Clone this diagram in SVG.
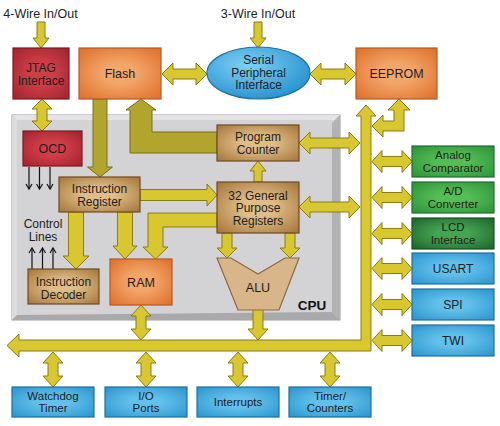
<svg xmlns="http://www.w3.org/2000/svg" width="500" height="426" viewBox="0 0 500 426">
<style>
.t{font-family:"Liberation Sans",Arial,sans-serif;font-size:12px;fill:#1d1d1d;text-anchor:middle}
.s{font-size:11.5px}
.b{font-weight:bold;font-size:13.5px;fill:#111}
.ya{fill:#d9c72f;stroke:#8a7b17;stroke-width:1}
.oa{fill:#b2a52e;stroke:#7a6e18;stroke-width:1}
.bl{stroke:#111;stroke-width:1.2;fill:none}
.red{fill:url(#gRed);stroke:#7a1a22;stroke-width:1.2}
.org{fill:url(#gOrg);stroke:#b35a26;stroke-width:1.2}
.brn{fill:url(#gBrn);stroke:#6e4a22;stroke-width:1.2}
.blu{fill:url(#gBlu);stroke:#1f6f9f;stroke-width:1.2}
.grn{fill:url(#gGrn);stroke:#1e6e2a;stroke-width:1.2}
.dgr{fill:url(#gDgr);stroke:#174f22;stroke-width:1.2}
</style>
<defs>
<radialGradient id="gRed" cx="50%" cy="50%" r="65%"><stop offset="0.35" stop-color="#cf3d47"/><stop offset="1" stop-color="#a52532"/></radialGradient>
<radialGradient id="gOrg" cx="50%" cy="50%" r="65%"><stop offset="0.3" stop-color="#f3a66a"/><stop offset="1" stop-color="#e0732f"/></radialGradient>
<radialGradient id="gBrn" cx="50%" cy="50%" r="65%"><stop offset="0.3" stop-color="#dfbd88"/><stop offset="1" stop-color="#aa7b40"/></radialGradient>
<radialGradient id="gBlu" cx="50%" cy="50%" r="65%"><stop offset="0.3" stop-color="#62c0ea"/><stop offset="1" stop-color="#2f98d0"/></radialGradient>
<radialGradient id="gGrn" cx="50%" cy="50%" r="65%"><stop offset="0.3" stop-color="#55bd55"/><stop offset="1" stop-color="#2e963b"/></radialGradient>
<radialGradient id="gDgr" cx="50%" cy="50%" r="65%"><stop offset="0.3" stop-color="#45a452"/><stop offset="1" stop-color="#1f6a2c"/></radialGradient>
<radialGradient id="gEl" cx="40%" cy="35%" r="70%"><stop offset="0" stop-color="#7fd0f4"/><stop offset="1" stop-color="#2590cf"/></radialGradient>
<marker id="ah" markerWidth="8" markerHeight="8" refX="6" refY="4" orient="auto" markerUnits="userSpaceOnUse"><path d="M1,1 L6,4 L1,7" fill="none" stroke="#111" stroke-width="1.2"/></marker>
</defs>
<rect width="500" height="426" fill="#fff"/>

<g id="cpu">
<rect x="12" y="115" width="328" height="205" fill="#d3d3d5" stroke="#9a9a9c" stroke-width="1"/>
<polygon points="12,115 340,115 335,120 17,120" fill="#e3e3e5"/>
<polygon points="12,115 17,120 17,315 12,320" fill="#dcdcde"/>
<polygon points="340,115 340,320 332,312 332,123" fill="#b2b2b4"/>
<polygon points="12,320 340,320 332,312 17,315" fill="#a9a9ab"/>
<text class="t b" x="312" y="310">CPU</text>
</g>

<g id="connectors">
<path class="ya" d="M37 22 H45 V38 H49 L41 48 L33 38 H37 Z"/>
<path class="ya" d="M254 22 H262 V38 H266 L258 48 L250 38 H254 Z"/>
<path class="ya" d="M42 99 L52 109 H47 V121 H52 L42 131 L32 121 H37 V109 H32 Z"/>
<path class="ya" d="M162 74 L173 63 V69 H196 V63 L207 74 L196 85 V79 H173 V85 Z"/>
<path class="ya" d="M310 74 L321 63 V69 H345 V63 L356 74 L345 85 V79 H321 V85 Z"/>
<path class="ya" d="M299 143 L310 132 V138 H349 V132 L360 143 L349 154 V148 H310 V154 Z"/>
<path class="ya" d="M299 207 L310 196 V202 H349 V196 L360 207 L349 218 V212 H310 V218 Z"/>
<path class="ya" d="M372 161.5 L382 150.5 V156.5 H402 V150.5 L412 161.5 L402 172.5 V166.5 H382 V172.5 Z"/>
<path class="ya" d="M372 197.5 L382 186.5 V192.5 H402 V186.5 L412 197.5 L402 208.5 V202.5 H382 V208.5 Z"/>
<path class="ya" d="M372 233.5 L382 222.5 V228.5 H402 V222.5 L412 233.5 L402 244.5 V238.5 H382 V244.5 Z"/>
<path class="ya" d="M372 268.5 L382 257.5 V263.5 H402 V257.5 L412 268.5 L402 279.5 V273.5 H382 V279.5 Z"/>
<path class="ya" d="M372 304.5 L382 293.5 V299.5 H402 V293.5 L412 304.5 L402 315.5 V309.5 H382 V315.5 Z"/>
<path class="ya" d="M372 340.5 L382 329.5 V335.5 H402 V329.5 L412 340.5 L402 351.5 V345.5 H382 V351.5 Z"/>
<path class="ya" d="M53 352 L63 363 H58 V376 H63 L53 387 L43 376 H48 V363 H43 Z"/>
<path class="ya" d="M146 352 L156 363 H151 V376 H156 L146 387 L136 376 H141 V363 H136 Z"/>
<path class="ya" d="M238 352 L248 363 H243 V376 H248 L238 387 L228 376 H233 V363 H228 Z"/>
<path class="ya" d="M330 352 L340 363 H335 V376 H340 L330 387 L320 376 H325 V363 H320 Z"/>
<path class="ya" d="M141 305 L151 316 H146 V329 H151 L141 340 L131 329 H136 V316 H131 Z"/>
<path class="ya" d="M253 309 H263 V329 H268 L258 340 L248 329 H253 Z"/>
<path class="ya" d="M254 182 V171 H250 L258 161 L266 171 H262 V182 Z"/>
<path class="ya" d="M140 189.5 H207 V184 L217 195 L207 206 V200.5 H140 Z"/>
<path class="ya" d="M117.5 212 H132.5 V246 H137 L125 259 L113 246 H117.5 Z"/>
<path class="ya" d="M68.5 212 H83.5 V256 H89 L76 269 L63 256 H68.5 Z"/>
<path class="oa" d="M93 99 H107 V167 H112.5 L100 177 L87.5 167 H93 Z"/>
<path class="oa" d="M217 132 H152 V110 H156 L141 99 L126 110 H130 V153 H217 Z"/>
<path class="ya" d="M217 213 H148 V247 H143 L155.5 259 L168 247 H163 V227 H217 Z"/>
<path class="ya" d="M222 233 H232 V248 H237 L227 258 L217 248 H222 Z"/>
<path class="ya" d="M285 233 H295 V248 H300 L290 258 L280 248 H285 Z"/>
<path class="ya" d="M372 126 L383 115 V121 H394 V110 H388 L399 99 L410 110 H404 V131 H383 V137 Z"/>
<path class="ya" d="M366 105 L376 116 H371 V351 H19 V357 L7 345.5 L19 334 V340 H361 V116 H356 Z"/>
<line class="bl" x1="29" y1="167" x2="29" y2="189" marker-end="url(#ah)"/>
<line class="bl" x1="39.5" y1="167" x2="39.5" y2="189" marker-end="url(#ah)"/>
<line class="bl" x1="50" y1="167" x2="50" y2="189" marker-end="url(#ah)"/>
<line class="bl" x1="32" y1="269" x2="32" y2="248" marker-end="url(#ah)"/>
<line class="bl" x1="42.5" y1="269" x2="42.5" y2="248" marker-end="url(#ah)"/>
<line class="bl" x1="53" y1="269" x2="53" y2="248" marker-end="url(#ah)"/>
</g>

<text class="t" x="40.5" y="17.5" style="font-size:12.5px">4-Wire In/Out</text>
<text class="t" x="258" y="17.5" style="font-size:12.5px">3-Wire In/Out</text>
<text class="t" x="43" y="228">Control</text>
<text class="t" x="43" y="241">Lines</text>

<g id="jtag"><rect class="red" x="13" y="48" width="56" height="51"/><text class="t" x="41" y="72">JTAG</text><text class="t" x="41" y="85">Interface</text></g>
<g id="flash"><rect class="org" x="79" y="48" width="82" height="51"/><text class="t" x="120" y="78" style="font-size:12.5px">Flash</text></g>
<g id="spi-serial"><ellipse cx="258.5" cy="73" rx="51.5" ry="26" fill="url(#gEl)" stroke="#1f6f9f" stroke-width="1.2"/><text class="t" x="258.5" y="64">Serial</text><text class="t" x="258.5" y="76.5">Peripheral</text><text class="t" x="258.5" y="89">Interface</text></g>
<g id="eeprom"><rect class="org" x="356" y="48" width="81" height="51"/><text class="t" x="396.5" y="78" style="font-size:12.5px">EEPROM</text></g>
<g id="ocd"><rect class="red" x="23" y="131" width="59" height="35"/><text class="t" x="52.5" y="153" style="font-size:12.5px">OCD</text></g>
<g id="pc"><rect class="brn" x="217" y="125" width="82" height="36"/><text class="t" x="258" y="141">Program</text><text class="t" x="258" y="154">Counter</text></g>
<g id="gpr"><rect class="brn" x="217" y="182" width="82" height="51"/><text class="t" x="258" y="199.5">32 General</text><text class="t" x="258" y="212">Purpose</text><text class="t" x="258" y="224.5">Registers</text></g>
<g id="ir"><rect class="brn" x="59" y="177" width="81" height="35"/><text class="t" x="99.5" y="193">Instruction</text><text class="t" x="99.5" y="206">Register</text></g>
<g id="id"><rect class="brn" x="28" y="269" width="71" height="35"/><text class="t" x="63.5" y="285.5">Instruction</text><text class="t" x="63.5" y="298.5">Decoder</text></g>
<g id="ram"><rect class="org" x="110" y="259" width="62" height="46"/><text class="t" x="141" y="287" style="font-size:12.5px">RAM</text></g>
<g id="alu"><polygon points="217,258 231,258 258,274 285,258 299,258 279,310 238,310" fill="#d8b68a" stroke="#8b6a3e" stroke-width="1.2"/><text class="t" x="258" y="292" style="font-size:12.5px">ALU</text></g>

<g id="analog"><rect class="grn" x="412" y="146" width="82" height="31"/><text class="t s" x="453" y="159">Analog</text><text class="t s" x="453" y="171.5">Comparator</text></g>
<g id="adc"><rect class="grn" x="412" y="182" width="82" height="31"/><text class="t s" x="453" y="195">A/D</text><text class="t s" x="453" y="207.5">Converter</text></g>
<g id="lcd"><rect class="dgr" x="412" y="218" width="82" height="31"/><text class="t s" x="453" y="231">LCD</text><text class="t s" x="453" y="243.5">Interface</text></g>
<g id="usart"><rect class="blu" x="412" y="253" width="82" height="31"/><text class="t" x="453" y="273">USART</text></g>
<g id="spi"><rect class="blu" x="412" y="289" width="82" height="31"/><text class="t" x="453" y="309">SPI</text></g>
<g id="twi"><rect class="blu" x="412" y="325" width="82" height="31"/><text class="t" x="453" y="345">TWI</text></g>

<g id="watchdog"><rect class="blu" x="12" y="387" width="82" height="30"/><text class="t s" x="53" y="399.5">Watchdog</text><text class="t s" x="53" y="412">Timer</text></g>
<g id="io"><rect class="blu" x="105" y="387" width="82" height="30"/><text class="t s" x="146" y="399.5">I/O</text><text class="t s" x="146" y="412">Ports</text></g>
<g id="interrupts"><rect class="blu" x="197" y="387" width="82" height="30"/><text class="t s" x="238" y="406">Interrupts</text></g>
<g id="timers"><rect class="blu" x="289" y="387" width="82" height="30"/><text class="t s" x="330" y="399.5">Timer/</text><text class="t s" x="330" y="412">Counters</text></g>
</svg>
